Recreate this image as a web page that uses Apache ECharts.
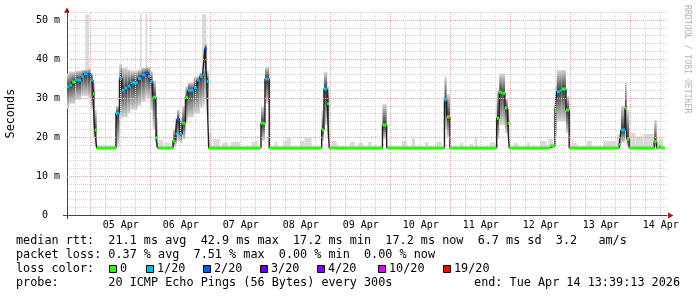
<!DOCTYPE html>
<html><head><meta charset="utf-8">
<script src="https://cdn.jsdelivr.net/npm/echarts@6/dist/echarts.min.js"></script>
<style>html,body{margin:0;padding:0;background:#fff}#c{width:697px;height:297px}</style>
</head><body><div id="c"></div>
<script>
// x values: hours relative to 05 Apr 00:00
const xStart = -9.48, xEnd = 230.52, dataEnd = 229.7;
const dayMidnights = [0, 24, 48, 72, 96, 120, 144, 168, 192, 216];
const dayNoons = [12, 36, 60, 84, 108, 132, 156, 180, 204, 228];
const dayLabels = ['05 Apr','06 Apr','07 Apr','08 Apr','09 Apr','10 Apr','11 Apr','12 Apr','13 Apr','14 Apr'];
const yMajor = [10, 20, 30, 40, 50];
const lossLabels = ['0','1/20','2/20','3/20','4/20','10/20','19/20'];
const lossColors = ['#26ff00','#00b8ff','#0059ff','#5e00ff','#7e00ff','#dd00ff','#ff0000'];

// median rtt change points: [hour, ms, loss bucket]
const median = [
 [-9.5,32.9,1],[-8.6,33.3,1],[-7.5,34.1,0],[-6.2,34.6,1],[-3.8,35.5,1],[-2.8,36.2,1],[-1.2,36.0,2],
 [0.0,34.6,1],[0.9,31.0,0],[1.6,21.8,0],[2.4,17.2,0],
 [10.1,26.1,1],[11.5,35.0,1],[12.5,32.0,1],[13.6,32.5,1],[14.7,33.1,1],[15.9,33.9,1],[18.9,35.0,1],
 [20.3,35.9,1],[21.9,36.5,2],[22.9,35.6,1],[23.9,34.2,1],[24.8,30.2,0],[26.1,19.8,0],[26.7,17.2,0],
 [32.9,19.0,0],[33.9,20.8,1],[34.5,24.5,2],[35.5,20.8,1],[36.6,23.5,0],[37.9,30.2,0],[38.9,32.0,1],
 [41.2,32.6,1],[42.5,34.6,1],[43.6,35.5,1],[44.8,36.1,1],[45.6,42.7,2],[46.4,34.2,1],[47.2,17.2,0],
 [68.1,23.5,0],[69.7,34.9,1],[71.4,17.2,0],
 [92.4,21.8,0],[93.3,32.3,1],[94.6,28.6,0],[95.4,17.2,0],
 [116.7,23.1,0],[118.4,17.2,0],
 [141.5,29.5,1],[142.4,25.2,0],[143.7,17.2,0],
 [162.4,24.8,0],[163.4,31.5,0],[164.6,31.2,0],[165.7,27.5,0],[166.8,23.5,0],[167.4,17.2,0],
 [183.7,17.7,0],[185.7,26.7,0],[186.4,31.6,1],[187.7,32.0,1],[188.4,32.3,0],[190.1,26.9,0],[191.4,17.2,0],
 [211.4,18.0,0],[212.1,21.8,1],[213.7,27.4,0],[214.4,19.5,0],[215.4,17.2,0],
 [225.4,18.8,0],[226.4,17.2,0],[227.3,17.6,0],[228.1,17.2,0]
];

// main smoke band change points: [hour, low ms, high ms] (null = none)
const smokeMain = [
 [-9.5,27.3,36.3],[-8.6,28.5,36.8],[-6.2,29.5,37.0],[-3.8,30.5,37.3],[-1.2,30.0,37.6],[0.0,27.0,36.5],
 [0.9,20.0,34.0],[1.6,17.4,27.0],[2.4,null,null],
 [10.1,17.5,28.0],[11.5,24.5,38.8],[12.5,25.0,37.8],[14.7,26.0,37.3],[15.9,27.0,37.0],[18.9,28.0,37.3],
 [20.3,29.0,37.8],[21.9,30.0,38.0],[23.9,27.0,37.0],[24.8,22.0,34.5],[26.1,17.4,25.0],[26.7,null,null],
 [32.9,17.4,22.0],[33.9,18.0,25.0],[34.5,19.0,27.0],[35.5,18.5,25.0],[36.6,19.5,28.0],[37.9,24.0,33.0],
 [38.9,25.0,34.0],[41.2,26.0,35.5],[43.6,27.5,36.5],[44.8,28.0,37.0],[45.6,30.0,44.0],[46.4,25.0,37.0],[47.2,null,null],
 [68.1,19.0,27.8],[69.7,28.6,38.0],[71.4,null,null],
 [92.4,19.0,27.0],[93.3,23.0,36.7],[94.6,19.5,33.0],[95.4,null,null],
 [116.7,19.5,28.5],[118.4,null,null],
 [141.5,22.0,35.5],[142.4,20.0,31.0],[143.7,null,null],
 [162.4,19.5,32.0],[163.4,23.0,36.3],[165.7,21.0,30.0],[166.8,19.0,27.0],[167.4,null,null],
 [185.7,19.5,33.0],[186.4,24.0,37.2],[190.1,21.0,30.5],[191.4,null,null],
 [211.4,17.4,19.5],[212.1,18.5,28.0],[213.7,22.0,34.2],[214.4,17.5,27.0],[215.4,null,null],
 [225.4,17.4,24.4],[226.4,null,null]
];

// light smoke (outliers): [from hour, to hour, low ms, high ms]
const smokeLight = [
 [-2.2,-0.6,36.0,51.5],[19.7,20.4,36.0,51.5],[21.9,22.6,36.0,51.5],[44.5,46.3,36.0,51.5],
 [2.4,9.7,17.2,17.8],[27.0,29.0,17.2,19.2],[29.5,32.0,17.2,18.5],[47.2,48.5,17.2,21.0],
 [49.0,51.7,17.2,19.5],[52.5,55.0,17.2,18.5],[56.0,59.7,17.2,18.8],[64.4,65.6,17.2,18.8],
 [65.6,67.0,17.2,19.1],[73.7,74.6,17.2,18.9],[77.0,78.5,17.2,19.0],[78.5,80.0,17.2,19.8],
 [83.7,85.5,17.2,19.0],[85.5,88.4,17.2,20.0],[96.4,98.4,17.2,19.0],[103.7,105.7,17.2,18.8],
 [107.0,109.0,17.2,18.5],[111.0,112.4,17.2,18.8],[124.4,126.4,17.2,19.0],[128.4,129.7,17.2,19.6],
 [133.7,135.0,17.2,18.6],[138.4,140.4,17.2,18.8],[147.7,149.0,17.2,18.5],[151.7,153.0,17.2,18.3],
 [153.7,154.6,17.2,20.1],[159.7,161.7,17.2,18.6],[169.0,171.0,17.2,18.4],[174.4,175.7,17.2,18.6],
 [179.7,182.4,17.2,19.0],[183.0,185.0,17.2,19.6],[192.4,194.4,17.2,18.6],[198.4,200.4,17.2,19.0],
 [205.0,210.4,17.2,19.0],[210.4,211.7,17.2,20.6],[215.7,218.0,17.2,21.0],[218.0,221.0,17.2,20.2],
 [221.0,225.4,17.2,20.8],[227.0,229.0,17.2,19.5]
];

// ---- derived structures for drawing ----
const medianSegs = median.map((p, i) => [p[0], i + 1 < median.length ? median[i + 1][0] : dataEnd, p[1], p[2]]);
const lineData = median.map(p => [p[0], p[1]]).concat([[dataEnd, median[median.length - 1][1]]]);
const smokeSegs = [];
smokeMain.forEach((p, i) => {
  if (p[1] == null) return;
  const h1 = i + 1 < smokeMain.length ? smokeMain[i + 1][0] : dataEnd;
  medianSegs.forEach(m => {
    const a = Math.max(p[0], m[0]), b = Math.min(h1, m[1]);
    if (b > a) smokeSegs.push([a, b, p[1], p[2], m[2]]);
  });
});

const MONO = '"DejaVu Sans Mono", monospace';
const minorX = [];
for (let h = -6; h <= 228; h += 6) if (dayMidnights.indexOf(h) < 0) minorX.push(h);

const chart = echarts.init(document.getElementById('c'), null, {renderer: 'canvas', width: 697, height: 297});

const legendFont = '11.8px ' + MONO;
const graphics = [];
const textLines = [
  ['median rtt:  21.1 ms avg  42.9 ms max  17.2 ms min  17.2 ms now  6.7 ms sd  3.2   am/s', 241],
  ['packet loss: 0.37 % avg  7.51 % max  0.00 % min  0.00 % now', 255],
  ['loss color:', 269],
  ['probe:       20 ICMP Echo Pings (56 Bytes) every 300s', 283]
];
textLines.forEach(t => graphics.push({type: 'text', x: 16, y: t[1], style: {text: t[0], font: legendFont, fill: '#000', textVerticalAlign: 'middle'}}));
graphics.push({type: 'text', x: 680, y: 283, style: {text: 'end: Tue Apr 14 13:39:13 2026', font: legendFont, fill: '#000', textAlign: 'right', textVerticalAlign: 'middle'}});
const sqX = [109, 146, 203, 260, 317, 378, 443];
lossLabels.forEach((l, i) => {
  graphics.push({type: 'rect', shape: {x: sqX[i] + 0.5, y: 265.5, width: 7, height: 7}, style: {fill: lossColors[i], stroke: '#000', lineWidth: 1}});
  graphics.push({type: 'text', x: sqX[i] + 11, y: 269, style: {text: l, font: legendFont, fill: '#000', textVerticalAlign: 'middle'}});
});
graphics.push({type: 'text', x: 687, y: 5, rotation: -Math.PI / 2, style: {text: 'RRDTOOL / TOBI OETIKER', font: '8.2px ' + MONO, fill: '#b4b4b4', textAlign: 'left', textVerticalAlign: 'middle'}});
graphics.push({type: 'polygon', shape: {points: [[64, 12.8], [70, 12.8], [67, 7.5]]}, style: {fill: '#a01818'}});
graphics.push({type: 'polygon', shape: {points: [[668, 212.5], [668, 218.5], [673.5, 215.5]]}, style: {fill: '#a01818'}});
graphics.push({type: 'line', shape: {x1: 63, y1: 215.5, x2: 67, y2: 215.5}, style: {stroke: '#444', lineWidth: 1}});
graphics.push({type: 'line', shape: {x1: 67.5, y1: 215, x2: 67.5, y2: 219}, style: {stroke: '#444', lineWidth: 1}});

function gridSeries(items, color) {
  return {
    type: 'line', data: [], z: 1, silent: true,
    markLine: {silent: true, symbol: ['none', 'none'], label: {show: false}, animation: false,
      lineStyle: {color: color, type: [1, 1], width: 1, opacity: 1}, emphasis: {disabled: true},
      data: items}
  };
}

const option = {
  animation: false,
  backgroundColor: '#fff',
  grid: {left: 67, top: 12.2, width: 600, height: 202.8, containLabel: false, outerBoundsMode: 'none'},
  xAxis: {
    type: 'value', min: xStart, max: xEnd,
    axisLine: {show: true, onZero: false, lineStyle: {color: '#444', width: 1}},
    axisTick: {show: false},
    splitLine: {show: false},
    axisLabel: {customValues: dayNoons, formatter: v => dayLabels[dayNoons.indexOf(v)] || '', fontFamily: MONO, fontSize: 10, color: '#000', margin: 5}
  },
  yAxis: {
    type: 'value', min: 0, max: 52, interval: 2,
    name: 'Seconds', nameLocation: 'middle', nameRotate: 90, nameGap: 50,
    nameTextStyle: {fontFamily: MONO, fontSize: 11.8, color: '#000'},
    axisLine: {show: true, onZero: false, lineStyle: {color: '#444', width: 1}},
    axisTick: {show: false},
    splitLine: {show: true, lineStyle: {color: '#d2d2d2', type: [1, 1], width: 1}},
    axisLabel: {formatter: v => (v % 10 === 0 && v <= 50) ? (v === 0 ? '0  ' : v + ' m') : '', fontFamily: MONO, fontSize: 10, color: '#000', margin: 7}
  },
  graphic: graphics,
  series: [
    gridSeries(minorX.map(h => ({xAxis: h})), '#d2d2d2'),
    gridSeries(dayMidnights.map(h => ({xAxis: h})).concat(yMajor.map(v => ({yAxis: v}))), '#e8a8a8'),
    {
      type: 'custom', z: 2, silent: true, clip: true,
      data: smokeLight,
      encode: {x: [0, 1], y: [2, 3]},
      renderItem: (params, api) => {
        const p0 = api.coord([api.value(0), api.value(3)]);
        const p1 = api.coord([api.value(1), api.value(2)]);
        return {type: 'rect', shape: {x: p0[0], y: p0[1], width: p1[0] - p0[0], height: p1[1] - p0[1]}, style: {fill: '#dadada'}};
      }
    },
    {
      type: 'custom', z: 3, silent: true, clip: true,
      data: smokeSegs,
      encode: {x: [0, 1], y: [2, 3]},
      renderItem: (params, api) => {
        const lo = api.value(2), hi = api.value(3), med = api.value(4);
        const p0 = api.coord([api.value(0), hi]);
        const p1 = api.coord([api.value(1), lo]);
        let t = (hi - med) / (hi - lo);
        t = Math.max(0.02, Math.min(0.98, t));
        return {type: 'rect', shape: {x: p0[0], y: p0[1], width: p1[0] - p0[0], height: p1[1] - p0[1]},
          style: {fill: new echarts.graphic.LinearGradient(0, 0, 0, 1, [
            {offset: 0, color: '#d8d8d8'}, {offset: t, color: '#3a3a3a'}, {offset: 1, color: '#d8d8d8'}])}};
      }
    },
    {
      type: 'line', z: 4, silent: true, data: lineData, step: 'end', showSymbol: false,
      lineStyle: {color: '#202020', width: 1.4}
    },
    {
      type: 'custom', z: 5, silent: true, clip: true,
      data: medianSegs,
      encode: {x: [0, 1], y: 2},
      renderItem: (params, api) => {
        const v = api.value(2);
        const p0 = api.coord([api.value(0), v]);
        const p1 = api.coord([api.value(1), v]);
        return {type: 'rect', shape: {x: p0[0], y: p0[1] - 1.5, width: p1[0] - p0[0], height: 3}, style: {fill: lossColors[api.value(3)]}};
      }
    }
  ]
};
chart.setOption(option);
</script></body></html>
